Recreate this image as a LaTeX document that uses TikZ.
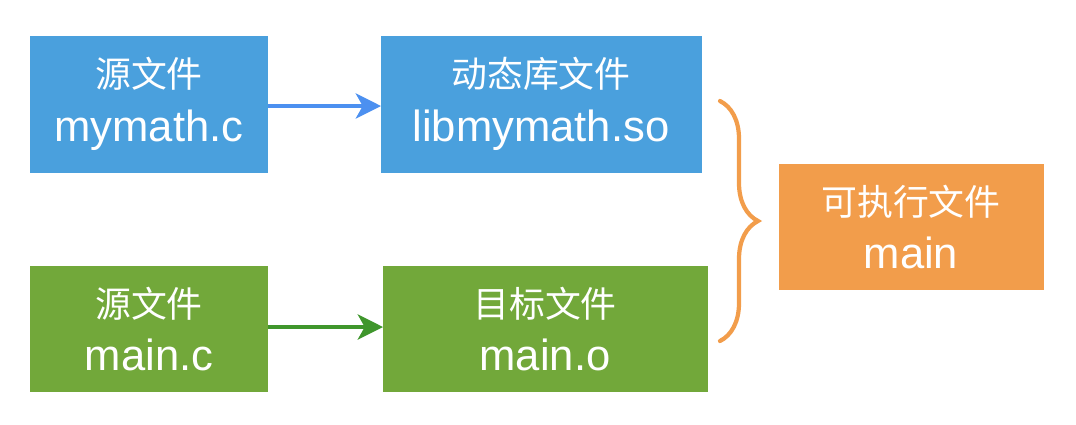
\documentclass[tikz,border=0pt]{standalone}
\usepackage{fontspec}
\setmainfont{Liberation Sans}
\newfontfamily\cjk{Noto Sans CJK SC}
\usetikzlibrary{positioning, arrows.meta, decorations.pathreplacing}
\definecolor{boxblue}{HTML}{4AA0DD}
\definecolor{boxgreen}{HTML}{72A83A}
\definecolor{boxorange}{HTML}{F29D4B}
\definecolor{arrblue}{HTML}{4C90F0}
\definecolor{arrgreen}{HTML}{3F962C}
\tikzset{
  filebox/.style={text=white, align=center, inner sep=0pt, font=\fontsize{31}{38}\selectfont},
  flow/.style={line width=2.5pt, -{Stealth[length=18pt,width=18pt,inset=5pt]}}
}
\newcommand{\zh}[1]{{\cjk\fontsize{25.5}{34}\selectfont #1}}
\begin{document}
\begin{tikzpicture}[x=0.025cm, y=-0.025cm]
        \useasboundingbox (0,0) rectangle (1076,424);
        % top row
        \fill[boxblue] (30,36) rectangle (268,173);
        \node[filebox] (srcm) at (149,104) {\zh{源文件}\\mymath.c};
        \fill[boxblue] (381,36) rectangle (702,173);
        \node[filebox] (lib) at (541,104) {\zh{动态库文件}\\libmymath.so};
        % bottom row
        \fill[boxgreen] (30,266) rectangle (268,392);
        \node[filebox] (srcmain) at (149,329) {\zh{源文件}\\main.c};
        \fill[boxgreen] (383,266) rectangle (708,392);
        \node[filebox] (obj) at (545,329) {\zh{目标文件}\\main.o};
        % result
        \fill[boxorange] (779,164) rectangle (1044,290);
        \node[filebox] (exe) at (911,227) {\zh{可执行文件}\\main};
        % connectors
        \coordinate (a1) at (268,106);
        \coordinate (a2) at (381,106);
        \coordinate (b1) at (268,327);
        \coordinate (b2) at (383,327);
        \draw[flow, arrblue] (a1) -- (a2);
        \draw[flow, arrgreen] (b1) -- (b2);
        \coordinate (bt) at (720,101);
        \coordinate (bb) at (720,341);
        \draw[boxorange, line width=3pt, line cap=round,
              decoration={brace, amplitude=0.95cm}, decorate] (bt) -- (bb);
\end{tikzpicture}
\end{document}
